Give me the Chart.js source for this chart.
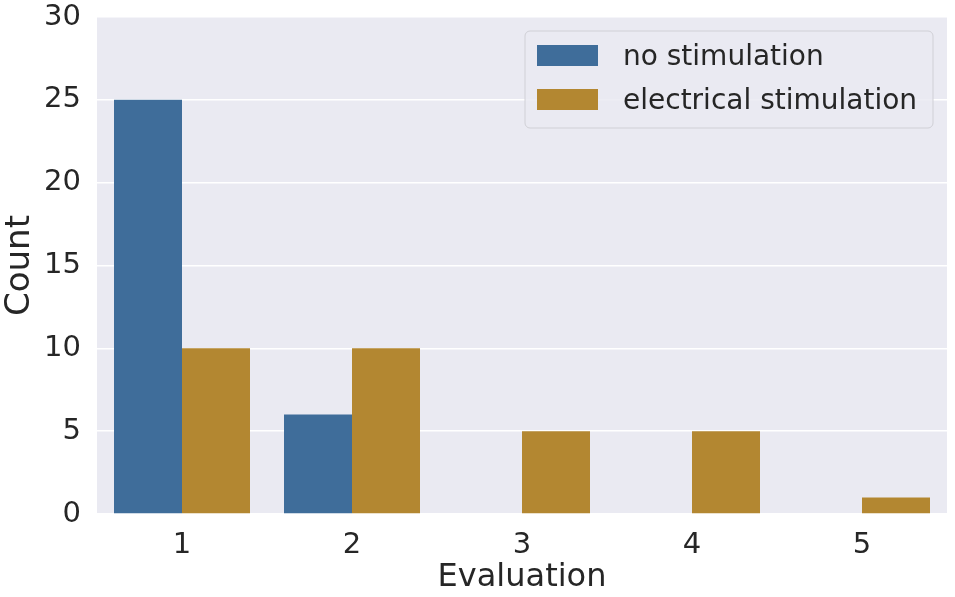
<!DOCTYPE html>
<html>
<head>
<meta charset="utf-8">
<script src="https://cdn.jsdelivr.net/npm/chart.js@4"></script>
<style>
  html, body { margin: 0; padding: 0; background: #fff; }
  #wrap { width: 955px; height: 597px; }
</style>
</head>
<body>
<div id="wrap"><canvas id="chart" width="955" height="597"></canvas></div>
<script>
const evaluations = ['1', '2', '3', '4', '5'];
const noStimulation = [25, 6, 0, 0, 0];
const electricalStimulation = [10, 10, 5, 5, 1];
const yTicks = [0, 5, 10, 15, 20, 25, 30];

const FONT = '"DejaVu Sans", "Noto Sans", sans-serif';
const BG = '#eaeaf2';

const plotBg = {
    id: 'plotBg',
    beforeDraw(c) {
        const a = c.chartArea, ctx = c.ctx;
        ctx.save();
        ctx.fillStyle = BG;
        ctx.fillRect(a.left, a.top, a.right - a.left, a.bottom - a.top);
        ctx.restore();
    }
};

// legend drawn inside the plot, top right
const innerLegend = {
    id: 'innerLegend',
    afterDraw(c) {
        const ctx = c.ctx;
        const x = 525, y = 31, w = 408, h = 97;
        ctx.save();
        ctx.beginPath();
        ctx.roundRect(x, y, w, h, 5);
        ctx.fillStyle = 'rgba(234,234,242,0.85)';
        ctx.fill();
        ctx.strokeStyle = '#d0d0d6';
        ctx.lineWidth = 1;
        ctx.stroke();
        ctx.font = '28px ' + FONT;
        ctx.textBaseline = 'middle';
        c.data.datasets.forEach((ds, i) => {
            const sy = 45 + i * 44;
            ctx.fillStyle = ds.backgroundColor;
            ctx.fillRect(537, sy, 61, 21);
            ctx.fillStyle = '#262626';
            ctx.fillText(ds.label, 623, sy + 13);
        });
        ctx.restore();
    }
};

new Chart(document.getElementById('chart'), {
    type: 'bar',
    data: {
        labels: evaluations,
        datasets: [
            { label: 'no stimulation', data: noStimulation, backgroundColor: '#3f6d9a' },
            { label: 'electrical stimulation', data: electricalStimulation, backgroundColor: '#b38731' }
        ]
    },
    options: {
        responsive: false,
        animation: false,
        layout: { padding: { top: 17, right: 8 } },
        datasets: { bar: { categoryPercentage: 0.8, barPercentage: 1.0, borderWidth: 0 } },
        plugins: { legend: { display: false }, tooltip: { enabled: false } },
        scales: {
            x: {
                grid: { display: false },
                border: { display: false },
                ticks: { color: '#262626', font: { family: FONT, size: 29 }, padding: 6 },
                title: { display: true, text: 'Evaluation', color: '#262626', font: { family: FONT, size: 32 }, padding: { top: 2, bottom: 0 } },
                afterFit(s) { s.height = 83; s.paddingLeft = 0; s.paddingRight = 0; }
            },
            y: {
                min: 0,
                max: 30,
                afterBuildTicks(s) { s.ticks = yTicks.map(v => ({ value: v })); },
                grid: { color: '#ffffff', lineWidth: 1.5, drawTicks: false },
                border: { display: false },
                ticks: { color: '#262626', font: { family: FONT, size: 29 }, padding: 16 },
                title: { display: true, text: 'Count', color: '#262626', font: { family: FONT, size: 34 }, padding: 0 },
                afterFit(s) { s.width = 97; s.paddingTop = 0; s.paddingBottom = 0; }
            }
        }
    },
    plugins: [plotBg, innerLegend]
});
</script>
</body>
</html>
